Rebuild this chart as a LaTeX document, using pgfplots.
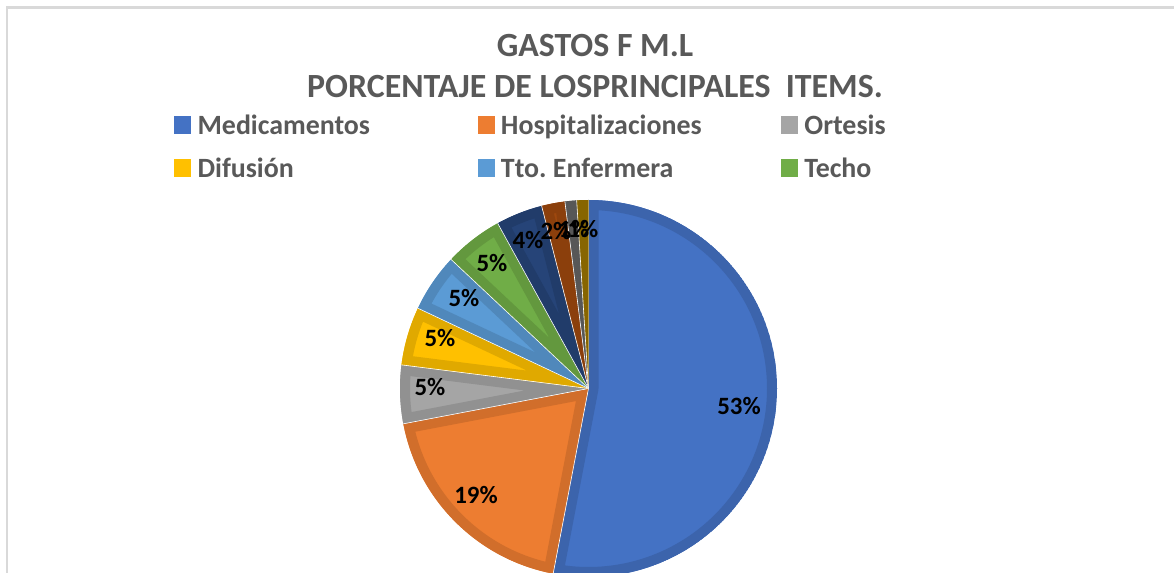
\documentclass[border=0pt]{standalone}
\usepackage{pgfplots}
\pgfplotsset{compat=1.18}
\usepackage{pgfplotstable}
\usepackage{fontspec}
\setmainfont{Carlito}

\definecolor{c1}{HTML}{4472C4}
\definecolor{c2}{HTML}{ED7D31}
\definecolor{c3}{HTML}{A5A5A5}
\definecolor{c4}{HTML}{FFC000}
\definecolor{c5}{HTML}{5B9BD5}
\definecolor{c6}{HTML}{70AD47}
\definecolor{c7}{HTML}{264478}
\definecolor{c8}{HTML}{9E480E}
\definecolor{c9}{HTML}{636363}
\definecolor{c10}{HTML}{997300}
\definecolor{txtgray}{HTML}{595959}
\definecolor{framegray}{HTML}{D9D9D9}

% value, label position (pixels from top-left), colour
\pgfplotstableread{
value lx ly color
53 739 406 c1
19 476 495 c2
5 430 387 c3
5 440 338 c4
5 464 298 c5
5 492 263 c6
4 528 240 c7
2 556 231 c8
1 574 229 c9
1 583 229 c10
}\piedata

\begin{document}
\begin{tikzpicture}
\begin{axis}[
  scale only axis,
  width=1174bp, height=573bp,
  xmin=0, xmax=1174, ymin=0, ymax=573,
  axis lines=none,
  legend columns=3,
  legend image code/.code={\fill[#1] (0bp,-8.5bp) rectangle (16bp,8.5bp);},
  legend style={at={(axis cs:174,460)}, anchor=north west, draw=none, fill=none,
    inner sep=0pt, row sep=19.5bp, text=txtgray,
    font=\bfseries\fontsize{28}{31}\selectfont,
    nodes={inner sep=0pt},
    /tikz/every odd column/.append style={column sep=7bp}},
]
\addlegendimage{c1}\addlegendentry{\makebox[280bp][l]{\strut Medicamentos}}
\addlegendimage{c2}\addlegendentry{\makebox[280bp][l]{\strut Hospitalizaciones}}
\addlegendimage{c3}\addlegendentry{\makebox[280bp][l]{\strut Ortesis}}
\addlegendimage{c4}\addlegendentry{\makebox[280bp][l]{\strut Difusión}}
\addlegendimage{c5}\addlegendentry{\makebox[280bp][l]{\strut Tto.\ Enfermera}}
\addlegendimage{c6}\addlegendentry{\makebox[280bp][l]{\strut Techo}}

\pgfplotsextra{
  \draw[framegray, line width=2.2bp] (axis cs:7,-10) -- (axis cs:7,565.5) -- (axis cs:1190,565.5);
  \gdef\cum{0}
  \foreach \i in {0,...,9}{
    \pgfplotstablegetelem{\i}{value}\of\piedata \let\v\pgfplotsretval
    \pgfplotstablegetelem{\i}{color}\of\piedata \let\col\pgfplotsretval
    \pgfmathsetmacro\sa{90-3.6*\cum}
    \pgfmathsetmacro\ea{90-3.6*(\cum+\v)}
    \begin{scope}
      \clip (axis cs:588.5,184.5) -- ++(\sa:188.5bp) arc[start angle=\sa, end angle=\ea, radius=188.5bp] -- cycle;
      \fill[\col] (axis cs:588.5,184.5) -- ++(\sa:188.5bp) arc[start angle=\sa, end angle=\ea, radius=188.5bp] -- cycle;
      \draw[\col!88!black, line width=20bp, line join=round] (axis cs:588.5,184.5) -- ++(\sa:188.5bp) arc[start angle=\sa, end angle=\ea, radius=188.5bp] -- cycle;
    \end{scope}
    \draw[white, line width=0.6bp] (axis cs:588.5,184.5) -- ++(\sa:188.5bp);
    \pgfmathsetmacro\newcum{\cum+\v}\xdef\cum{\newcum}
  }
  \foreach \i in {0,...,9}{
    \pgfplotstablegetelem{\i}{value}\of\piedata \let\v\pgfplotsretval
    \pgfplotstablegetelem{\i}{lx}\of\piedata \let\lx\pgfplotsretval
    \pgfplotstablegetelem{\i}{ly}\of\piedata \let\ly\pgfplotsretval
    \pgfmathsetmacro\lyy{573-\ly}
    \node[font=\bfseries\fontsize{25}{28}\selectfont, text=black, inner sep=0pt] at (axis cs:\lx,\lyy) {\v\%};
  }
  \node[font=\bfseries\fontsize{34}{41}\selectfont, text=txtgray, align=center, inner sep=0pt]
    at (axis cs:595,507) {GASTOS F M.L\\PORCENTAJE DE LOSPRINCIPALES\ \ ITEMS.};
}
\end{axis}
\pgfresetboundingbox
\path (0,0) rectangle (1174bp,573bp);
\end{tikzpicture}
\end{document}
